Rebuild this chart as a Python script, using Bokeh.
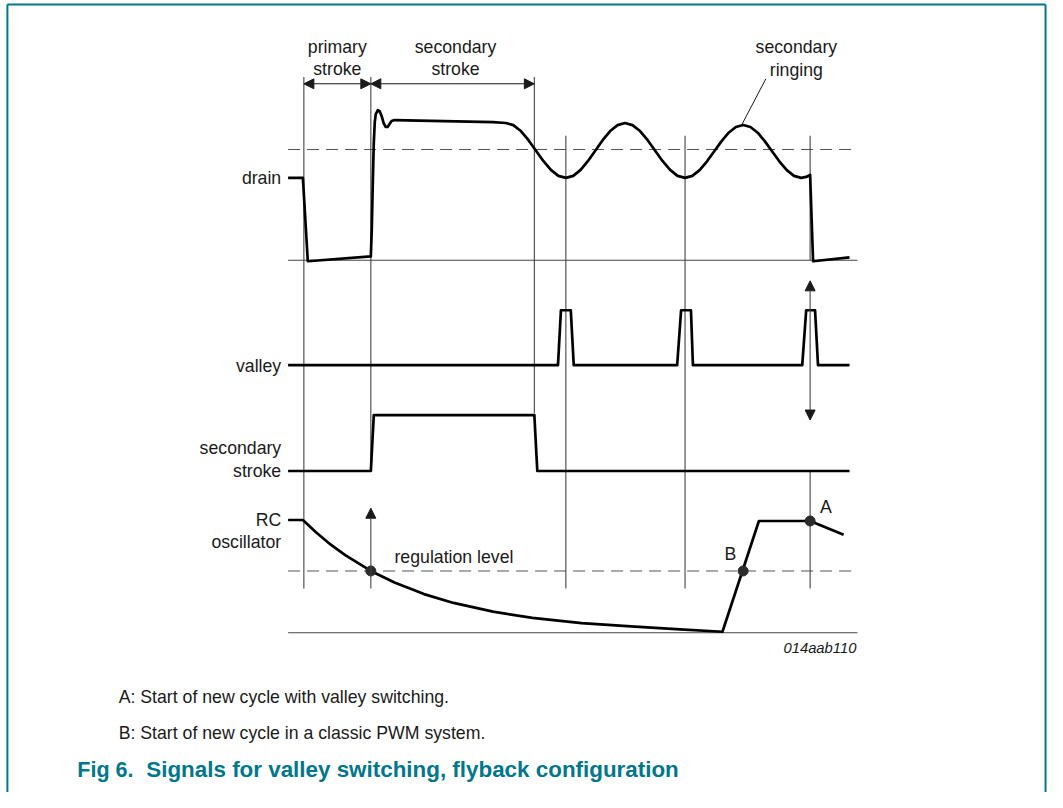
from bokeh.plotting import figure
from bokeh.models import Range1d, Arrow, NormalHead
from bokeh.embed import file_html
from bokeh.resources import INLINE
from bokeh.core.properties import value

# ---------------- data (diagram units = reference pixel grid 1063 x 808) ----------------
# drain voltage waveform (time, level)
drain_t = [292, 307, 312, 376, 377, 378, 379, 380, 381, 383, 385, 387, 389, 391, 393, 395, 397, 400,
           450, 500, 513, 520.6, 528.3, 535.9, 543.5, 551.1, 558.8, 566.4,
           574, 581.5, 589, 596.5, 604, 611.5, 619, 626.5,
           634, 641.6, 649.3, 656.9, 664.5, 672.1, 679.8, 687.4,
           695, 702.4, 709.8, 717.1, 724.5, 731.9, 739.3, 746.6,
           754, 761.4, 768.8, 776.1, 783.5, 790.9, 798.3, 805.6,
           813, 818, 822, 825, 862]
drain_v = [181, 181, 266, 261, 232, 185, 145, 124, 116, 112, 113, 118, 125, 129, 129, 126, 123, 122,
           123, 124, 125, 127.1, 133.2, 142.3, 153, 163.7, 172.8, 178.9,
           181, 178.9, 172.8, 163.7, 153, 142.3, 133.2, 127.1,
           125, 127.1, 133.2, 142.3, 153, 163.7, 172.8, 178.9,
           181, 178.9, 173.1, 164.3, 154, 143.7, 134.9, 129.1,
           127, 129.1, 134.9, 143.7, 154, 164.3, 173.1, 178.9,
           181, 180, 178, 266, 262]

# valley detection pulses
valley_t = [292, 566, 569, 579, 582, 687, 691, 701, 703, 814, 818, 827, 830, 862]
valley_v = [372, 372, 316, 316, 372, 372, 316, 316, 372, 372, 316, 316, 372, 372]

# secondary stroke signal
sec_t = [292, 376, 379, 542, 545, 862]
sec_v = [480, 480, 423, 423, 480, 480]

# RC oscillator waveform
rc_t = [292, 307, 320, 335, 350, 376, 400, 430, 460, 500, 540, 590, 640, 690, 733, 770, 822, 856]
rc_v = [530, 530, 542.3, 554.9, 565.9, 582, 593.8, 605.6, 614.6, 623.5, 629.8, 635.2,
        638.6, 641.5, 644, 531, 531, 545]

# event markers (time, from level, to level)
mark_t = [308, 376, 542, 574, 695, 822, 822]
mark_a = [78, 78, 78, 138, 138, 138, 480]
mark_b = [600, 480, 421, 600, 600, 265, 600]

# reference levels
dash_levels = [152, 582]
base_levels = [265, 645]
t_start, t_end = 292, 870

# points A / B and regulation crossing
dot_t = [376, 754, 822]
dot_v = [582, 582, 531]

# labels
row_labels = ["drain", "valley", "secondary", "stroke", "RC", "oscillator"]
row_label_v = [181, 373, 457, 480, 530, 552]
top_labels = ["primary", "stroke", "secondary", "stroke", "secondary", "ringing"]
top_label_t = [342, 342, 462, 462, 808, 808]
top_label_v = [47, 70, 47, 70, 47, 71]
notes = ["A: Start of new cycle with valley switching.",
         "B: Start of new cycle in a classic PWM system."]
note_v = [711, 747]

FONT = "Liberation Sans"
TEAL = "#00778b"
INK = "#1a1a1a"
GREY = "#444444"
FS = "17.7px"

p = figure(width=1047, height=792, x_range=Range1d(0, 1063), y_range=Range1d(808, 0),
           output_backend="svg", toolbar_location=None, min_border=0,
           x_axis_location=None, y_axis_location=None)
p.grid.visible = False
p.outline_line_color = None
p.background_fill_color = "white"
p.border_fill_color = "white"

# frame
p.segment(x0=[7, 7, 1061], y0=[4, 4, 4], x1=[1061, 7, 1061], y1=[4, 808, 808],
          line_color=TEAL, line_width=2)

# reference levels
p.segment(x0=[t_start] * 2, x1=[t_end] * 2, y0=dash_levels, y1=dash_levels,
          line_color="#555555", line_width=1.2, line_dash="12 7")
p.segment(x0=[t_start] * 2, x1=[t_end] * 2, y0=base_levels, y1=base_levels,
          line_color=GREY, line_width=1.2)

# event markers
p.segment(x0=mark_t, x1=mark_t, y0=mark_a, y1=mark_b, line_color=GREY, line_width=1.1)

# arrows
def head():
    return NormalHead(size=10, fill_color=INK, line_color=INK, line_width=1)

for xs, xe in [(308, 376), (376, 542)]:
    p.add_layout(Arrow(start=head(), end=head(), x_start=xs, y_start=85, x_end=xe, y_end=85,
                       line_color=INK, line_width=1.1))
p.add_layout(Arrow(end=head(), x_start=376, y_start=600, x_end=376, y_end=518,
                   line_color=GREY, line_width=1.1))
p.add_layout(Arrow(start=head(), end=head(), x_start=822, y_start=428, x_end=822, y_end=286,
                   line_color=GREY, line_width=1.1))

# leader line for ringing label
p.line(x=[777, 753], y=[80, 126], line_color=INK, line_width=1)

# waveforms
for t, v in [(drain_t, drain_v), (valley_t, valley_v), (sec_t, sec_v), (rc_t, rc_v)]:
    p.line(x=t, y=v, line_color="black", line_width=2.7, line_join="round")

p.scatter(x=dot_t, y=dot_v, size=10, fill_color="#2b2b2b", line_color="#2b2b2b")

# texts
p.text(x=[285] * len(row_labels), y=row_label_v, text=row_labels, text_font=value(FONT),
       text_font_size=value(FS), text_align="right", text_baseline="middle", text_color=INK)
p.text(x=top_label_t, y=top_label_v, text=top_labels, text_font=value(FONT),
       text_font_size=value(FS), text_align="center", text_baseline="middle", text_color=INK)
p.text(x=[400], y=[568], text=["regulation level"], text_font=value(FONT),
       text_font_size=value(FS), text_align="left", text_baseline="middle", text_color=INK)
p.text(x=[838, 741], y=[517, 565], text=["A", "B"], text_font=value(FONT),
       text_font_size=value(FS), text_align="center", text_baseline="middle", text_color=INK)
p.text(x=[869], y=[661], text=["014aab110"], text_font=value(FONT), text_font_style="italic",
       text_font_size=value("14.8px"), text_align="right", text_baseline="middle", text_color=INK)
p.text(x=[120, 120], y=note_v, text=notes, text_font=value(FONT),
       text_font_size=value(FS), text_align="left", text_baseline="middle", text_color=INK)
p.text(x=[78], y=[785], text=["Fig 6."],
       text_font=value(FONT), text_font_style="bold", text_font_size=value("21.5px"),
       text_align="left", text_baseline="middle", text_color=TEAL)
p.text(x=[148], y=[785], text=["Signals for valley switching, flyback configuration"],
       text_font=value(FONT), text_font_style="bold", text_font_size=value("22.4px"),
       text_align="left", text_baseline="middle", text_color=TEAL)

open("out.html", "w").write(file_html(p, INLINE))
